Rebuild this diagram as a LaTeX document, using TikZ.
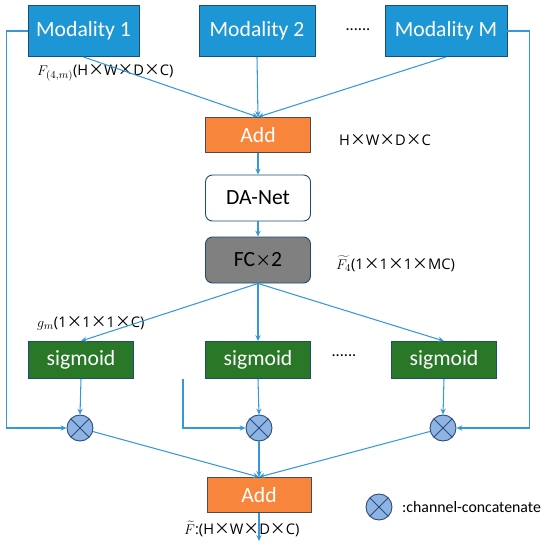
\documentclass[tikz,border=0pt]{standalone}
\usepackage{fontspec}
\setmainfont{Carlito}
\newfontfamily\lblfont{Open Sans}
\newfontfamily\cjk{Noto Sans CJK SC}
\newcommand{\tms}{{\cjk\fontsize{13.5}{15}\selectfont ×}}
\usetikzlibrary{arrows.meta}

\definecolor{modblue}{RGB}{28,150,212}
\definecolor{modedge}{RGB}{30,75,115}
\definecolor{addorange}{RGB}{247,134,60}
\definecolor{sigreen}{RGB}{40,120,40}
\definecolor{fcgray}{RGB}{128,128,128}
\definecolor{otblue}{RGB}{141,180,226}
\definecolor{otedge}{RGB}{45,75,125}
\definecolor{lineblue}{RGB}{52,152,219}

\begin{document}
\begin{tikzpicture}[x=0.03cm,y=-0.03cm,
  boxtext/.style={font=\fontsize{18.5}{21}\selectfont},
  modbox/.style={boxtext,draw=modedge,fill=modblue,text=white,line width=0.8pt,minimum height=1.53cm},
  addbox/.style={boxtext,draw=black!70,fill=addorange,text=white,line width=0.8pt,minimum width=3.15cm,minimum height=1.05cm},
  netbox/.style={boxtext,draw=modedge,rounded corners=6pt,line width=0.8pt,minimum width=3.15cm,minimum height=1.38cm},
  sigbox/.style={boxtext,draw=modedge,fill=sigreen,text=white,line width=0.8pt,minimum width=3.15cm,minimum height=1.11cm},
  otimes/.style={circle,draw=otedge,fill=otblue,line width=0.8pt,minimum size=0.78cm,inner sep=0pt,
    path picture={\draw[otedge,line width=0.8pt] (path picture bounding box.north west) -- (path picture bounding box.south east)
      (path picture bounding box.north east) -- (path picture bounding box.south west);}},
  line/.style={draw=lineblue,line width=0.9pt},
  arr/.style={line,-{Stealth[length=5pt,width=4.5pt]}},
  lbl/.style={font=\lblfont\fontsize{12.5}{15}\selectfont,anchor=west,inner sep=0pt}]
\useasboundingbox (0,0) rectangle (550,550);

% inputs
\node[modbox,minimum width=3.33cm] (mod1) at (83.5,31) {Modality 1};
\node[modbox,minimum width=3.48cm] (mod2) at (257,31) {Modality 2};
\node[modbox,minimum width=3.66cm] (modM) at (446,31) {Modality M};
\node[font=\fontsize{14}{16}\selectfont] (dotsA) at (358,30) {......};

% fusion trunk
\node[addbox] (add1) at (258,135) {Add};
\node[netbox] (danet) at (258,198) {DA-Net};
\node[netbox,fill=fcgray] (fc) at (258,260) {FC\tms 2};

% gates
\node[sigbox] (sig1) at (81,360) {sigmoid};
\node[sigbox] (sig2) at (258,360) {sigmoid};
\node[sigbox] (sigM) at (444,360) {sigmoid};
\node[font=\fontsize{14}{16}\selectfont] (dotsB) at (344,356) {......};

\node[otimes] (ot1) at (80,428) {};
\node[otimes] (ot2) at (259,428) {};
\node[otimes] (otM) at (443,428) {};

\node[addbox,minimum width=3.12cm] (add2) at (259,495) {Add};
\coordinate (out) at (259,541);
\coordinate (side) at (183,379);

% legend
\node[otimes] (otkey) at (379,507) {};
\node[lbl,font=\fontsize{13.5}{16}\selectfont] (keytxt) at (402,507) {:channel-concatenate};

% labels
\node[lbl] (lblF) at (37,73) {$F_{(4,m)}$(H\tms W\tms D\tms C)};
\node[lbl] (lblsz) at (339,140) {H\tms W\tms D\tms C};
\node[lbl] (lblF4) at (336,264) {$\widetilde{F_4}$(1\tms 1\tms 1\tms MC)};
\node[lbl] (lblg) at (37,323) {$g_m$(1\tms 1\tms 1\tms C)};
\node[lbl] (lblout) at (184,529) {$\widetilde{F}$:(H\tms W\tms D\tms C)};

% connectors
\draw[arr] (mod1.south) -- (add1.north);
\draw[arr] (mod2.south) -- (add1.north);
\draw[arr] (modM.south) -- (add1.north);
\draw[arr] (mod1.west) -- ++(-21,0) |- (ot1.west);
\draw[arr] (modM.east) -- ++(22,0) |- (otM.east);
\draw[arr] (add1.south) -- (danet.north);
\draw[arr] (danet.south) -- (fc.north);
\draw[arr] (fc.south) -- (sig1.north);
\draw[arr] (fc.south) -- (sig2.north);
\draw[arr] (fc.south) -- (sigM.north);
\draw[arr] (sig1.south) -- (ot1.north);
\draw[arr] (sig2.south) -- (ot2.north);
\draw[arr] (sigM.south) -- (otM.north);
\draw[arr] (side) |- (ot2.west);
\draw[arr] (ot1) -- (add2.north);
\draw[arr] (ot2.south) -- (add2.north);
\draw[arr] (otM) -- (add2.north);
\draw[arr] (add2.south) -- (out);
\end{tikzpicture}
\end{document}
